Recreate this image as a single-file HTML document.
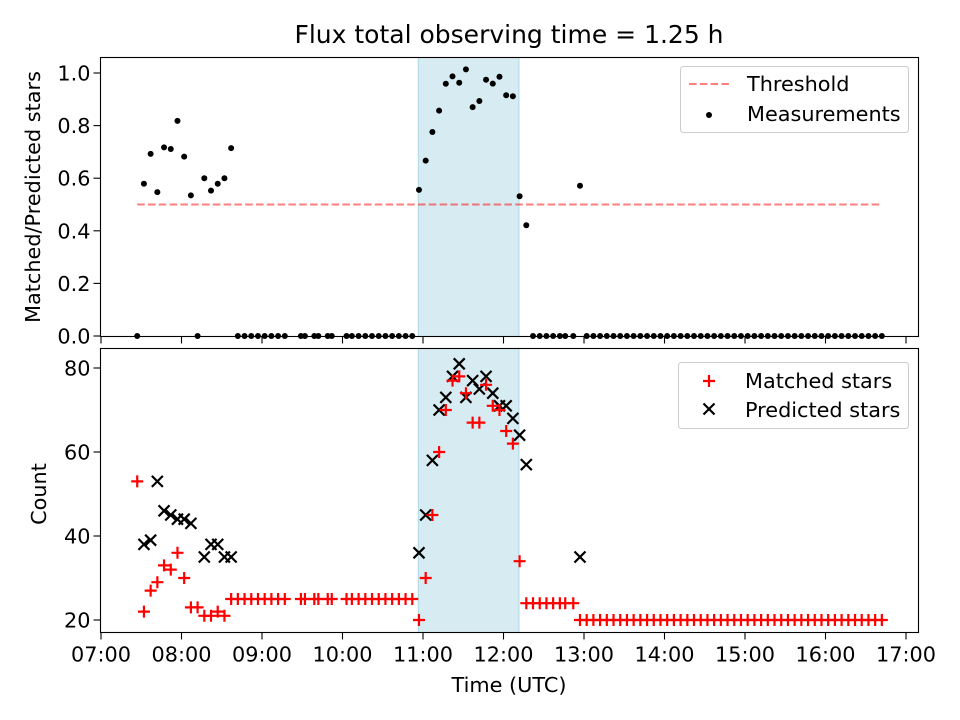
<!DOCTYPE html>
<html><head><meta charset="utf-8"><style>
body{margin:0;background:#fff}
svg{display:block;font-family:"DejaVu Sans","Liberation Sans",sans-serif}
</style></head><body>
<svg id="fig" width="960" height="720" viewBox="0 0 960 720">
<rect width="960" height="720" fill="#fff"/>
<text x="509" y="43" font-size="25" text-anchor="middle">Flux total observing time = 1.25 h</text>
<g id="gtop"></g>
<g id="gbot"></g>
<text x="40" y="197" font-size="20.8" text-anchor="middle" transform="rotate(-90 40 197)">Matched/Predicted stars</text>
<text x="46" y="494" font-size="20.8" text-anchor="middle" transform="rotate(-90 46 494)">Count</text>
<text x="509" y="692" font-size="20.8" text-anchor="middle">Time (UTC)</text>
<g>
<rect x="680.5" y="66.5" width="228" height="66" rx="3" fill="#fff" fill-opacity="0.8" stroke="#ccc"/>
<line x1="689" x2="731" y1="84" y2="84" stroke="#ff0000" stroke-opacity="0.5" stroke-width="2" stroke-dasharray="7.5,3.3"/>
<text x="747" y="91" font-size="20.8">Threshold</text>
<circle cx="709" cy="115" r="3" fill="#000"/>
<text x="747" y="121" font-size="20.8">Measurements</text>
</g>
<g>
<rect x="678.5" y="362.5" width="230" height="66" rx="3" fill="#fff" fill-opacity="0.8" stroke="#ccc"/>
<path d="M703,381L715,381M709,375L709,387" stroke="#ff0000" stroke-width="2.2"/>
<text x="745" y="388" font-size="20.8">Matched stars</text>
<path d="M703.5,403.5L714.5,414.5M703.5,414.5L714.5,403.5" stroke="#000" stroke-width="2.2"/>
<text x="745" y="417" font-size="20.8">Predicted stars</text>
</g>
</svg>
<script>
// minutes since 07:00 UTC
const times = [27,32,37,42,47,52,57,62,67,72,77,82,87,92,97,
102,107,112,117,122,127,132,137,149,152,159,162,169,172,
183,187,192,197,202,207,212,217,222,227,232,
237,242,247,252,257,262,267,272,277,282,287,292,297,302,307,312,317,
322,327,332,337,342,346,352,357,
362,367,372,377,382,387,392,397,402,407,412,417,422,427,432,437,442,447,452,457,462,467,472,477,482,487,492,497,502,507,512,517,522,527,532,537,542,547,552,557,562,567,572,577,582];
const matched = [53,22,27,29,33,32,36,30,23,23,21,21,22,21,25,
25,25,25,25,25,25,25,25,25,25,25,25,25,25,
25,25,25,25,25,25,25,25,25,25,25,
20,30,45,60,70,77,78,74,67,67,76,71,70,65,62,34,24,
24,24,24,24,24,24,24,20,
20,20,20,20,20,20,20,20,20,20,20,20,20,20,20,20,20,20,20,20,20,20,20,20,20,20,20,20,20,20,20,20,20,20,20,20,20,20,20,20,20,20,20,20,20];
const predicted = [0,38,39,53,46,45,44,44,43,0,35,38,38,35,35,
0,0,0,0,0,0,0,0,0,0,0,0,0,0,
0,0,0,0,0,0,0,0,0,0,0,
36,45,58,70,73,78,81,73,77,75,78,74,71,71,68,64,57,
0,0,0,0,0,0,0,35,
0,0,0,0,0,0,0,0,0,0,0,0,0,0,0,0,0,0,0,0,0,0,0,0,0,0,0,0,0,0,0,0,0,0,0,0,0,0,0,0,0,0,0,0,0];
const xTickLabels = ["07:00","08:00","09:00","10:00","11:00","12:00","13:00","14:00","15:00","16:00","17:00"];
const ratioTicks = [0,0.2,0.4,0.6,0.8,1.0];
const countTicks = [20,40,60,80];
const windowRange = [236.5,311.5];
const threshold = 0.5;

const NS="http://www.w3.org/2000/svg";
const AL=100.5,AR=918.5;
const xs=m=>101+80.5*m/60;
const yTop=v=>336-263*v;
const yBot=c=>620-4.2*(c-20);
function mk(tag,attrs,parent){const e=document.createElementNS(NS,tag);for(const k in attrs)e.setAttribute(k,attrs[k]);parent.appendChild(e);return e;}
const gTop=document.getElementById('gtop'),gBot=document.getElementById('gbot');
const panels=[[gTop,57.5,336.5],[gBot,348.5,632.5]];
panels.forEach(([g,t,b])=>{
  const s=mk('rect',{x:xs(windowRange[0]),y:t,width:xs(windowRange[1])-xs(windowRange[0]),height:b-t,fill:'#add8e6','fill-opacity':0.5,stroke:'#add8e6','stroke-width':1},g);
  
  
});
const th=mk('line',{x1:xs(times[0]),x2:xs(times[times.length-1]),y1:yTop(threshold),y2:yTop(threshold),stroke:'#ff0000','stroke-opacity':0.5,'stroke-width':2,'stroke-dasharray':'7.5,3.3'},gTop);


times.forEach((t,i)=>{
  const r=predicted[i]>0?matched[i]/predicted[i]:0;
  const c=mk('circle',{cx:xs(t),cy:yTop(r),r:3,fill:'#000'},gTop);
  
  
});
times.forEach((t,i)=>{
  const x=xs(t);
  if(predicted[i]>0){const y=yBot(predicted[i]);
    const p=mk('path',{d:`M${x-5.5},${y-5.5}L${x+5.5},${y+5.5}M${x-5.5},${y+5.5}L${x+5.5},${y-5.5}`,stroke:'#000','stroke-width':2.2,fill:'none'},gBot);
    
    
  }
});
times.forEach((t,i)=>{
  const x=xs(t),y=yBot(matched[i]);
  const p=mk('path',{d:`M${x-6},${y}L${x+6},${y}M${x},${y-6}L${x},${y+6}`,stroke:'#ff0000','stroke-width':2.2,fill:'none'},gBot);
  
  
});
panels.forEach(([g,t,b],pi)=>{
  const f=mk('rect',{x:AL,y:t,width:AR-AL,height:b-t,fill:'none',stroke:'#000','stroke-width':1.1},g);
  
  
  xTickLabels.forEach((lab,i)=>{const x=xs(i*60);
    const tk=mk('line',{x1:x,x2:x,y1:b,y2:b+7,stroke:'#000','stroke-width':1.1},g);
    
    
    if(pi===1){const tx=mk('text',{x:x,y:b+29,'font-size':20.8,'text-anchor':'middle'},g);tx.textContent=lab;
      
      }
  });
});
ratioTicks.forEach(v=>{const y=yTop(v);
  const tk=mk('line',{x1:AL-7,x2:AL,y1:y,y2:y,stroke:'#000','stroke-width':1.1},gTop);
  
  
  const tx=mk('text',{x:AL-10,y:y+7.5,'font-size':20.8,'text-anchor':'end'},gTop);tx.textContent=v.toFixed(1);
  
  
});
countTicks.forEach(v=>{const y=yBot(v);
  const tk=mk('line',{x1:AL-7,x2:AL,y1:y,y2:y,stroke:'#000','stroke-width':1.1},gBot);
  
  
  const tx=mk('text',{x:AL-10,y:y+7.5,'font-size':20.8,'text-anchor':'end'},gBot);tx.textContent=String(v);
  
  
});
</script>
</body></html>
